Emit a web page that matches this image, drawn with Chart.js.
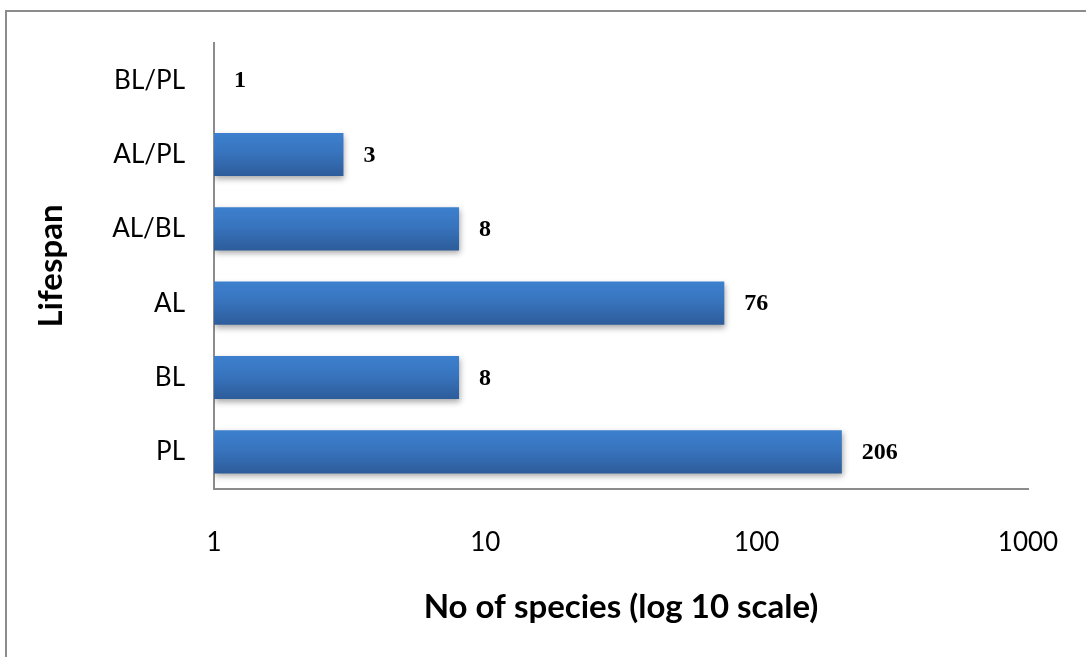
<!DOCTYPE html>
<html>
<head>
<meta charset="utf-8">
<script src="https://cdn.jsdelivr.net/npm/chart.js@4/dist/chart.umd.min.js"></script>
<style>
html,body{margin:0;padding:0;background:#fff;}
#wrap{width:1086px;height:657px;position:relative;}
</style>
</head>
<body>
<div id="wrap"><canvas id="c" width="1086" height="657"></canvas></div>
<script>
const categories = ['BL/PL', 'AL/PL', 'AL/BL', 'AL', 'BL', 'PL'];
const speciesCounts = [1, 3, 8, 76, 8, 206];
const xTickValues = [1, 10, 100, 1000];
const xTitle = 'No of species (log 10 scale)';
const yTitle = 'Lifespan';

const frame = {
  id: 'frame',
  beforeDraw(chart) {
    const ctx = chart.ctx;
    ctx.save();
    ctx.fillStyle = '#fff';
    ctx.fillRect(0, 0, chart.width, chart.height);
    ctx.strokeStyle = '#8c8c8c';
    ctx.lineWidth = 2;
    ctx.strokeRect(6, 11, 1200, 1000);
    ctx.restore();
  }
};

const barStyle = {
  id: 'barStyle',
  beforeDatasetsDraw(chart) {
    const ctx = chart.ctx;
    const meta = chart.getDatasetMeta(0);
    meta.data.forEach(el => {
      const top = el.y - el.height / 2, bot = el.y + el.height / 2;
      const g = ctx.createLinearGradient(0, top, 0, bot);
      g.addColorStop(0, '#3d80ce');
      g.addColorStop(0.45, '#3874be');
      g.addColorStop(1, '#2d5c9a');
      el.options = Object.assign({}, el.options, { backgroundColor: g });
    });
    ctx.save();
    ctx.shadowColor = 'rgba(0,0,0,0.35)';
    ctx.shadowBlur = 6;
    ctx.shadowOffsetX = 1;
    ctx.shadowOffsetY = 3;
  },
  afterDatasetsDraw(chart) {
    const ctx = chart.ctx;
    ctx.restore();
    const meta = chart.getDatasetMeta(0);
    ctx.save();
    ctx.font = 'bold 24px "Liberation Serif", serif';
    ctx.fillStyle = '#000';
    ctx.textAlign = 'left';
    ctx.textBaseline = 'middle';
    meta.data.forEach((el, i) => {
      ctx.fillText(String(speciesCounts[i]), el.x + 20, el.y + 1);
    });
    ctx.restore();
  }
};

new Chart(document.getElementById('c'), {
  type: 'bar',
  data: {
    labels: categories,
    datasets: [{
      data: speciesCounts,
      backgroundColor: '#3873bd',
      borderWidth: 0,
      barPercentage: 0.58,
      categoryPercentage: 1
    }]
  },
  options: {
    indexAxis: 'y',
    responsive: false,
    animation: false,
    layout: { padding: { left: 0, top: 43, right: 58, bottom: 0 } },
    plugins: { legend: { display: false }, tooltip: { enabled: false } },
    scales: {
      x: {
        type: 'logarithmic',
        min: 1,
        max: 1000,
        afterBuildTicks(scale) { scale.ticks = xTickValues.map(v => ({ value: v })); },
        afterFit(scale) { scale.height = 168; scale.paddingLeft = 0; scale.paddingRight = 0; },
        grid: { display: false, drawTicks: false },
        border: { display: true, color: '#8c8c8c', width: 2 },
        ticks: {
          color: '#000',
          padding: 38,
          maxRotation: 0,
          autoSkip: false,
          font: { family: 'Lato', size: 26 },
          callback: (v) => String(v)
        },
        title: {
          display: true,
          text: xTitle,
          color: '#000',
          font: { family: 'Lato', size: 33, weight: 'bold' },
          padding: { top: 0, bottom: 30 }
        }
      },
      y: {
        afterFit(scale) { scale.width = 214; scale.paddingTop = 0; scale.paddingBottom = 0; },
        grid: { display: false, drawTicks: false },
        border: { display: true, color: '#8c8c8c', width: 2 },
        ticks: {
          color: '#000',
          padding: 29,
          font: { family: 'Lato', size: 26 }
        },
        title: {
          display: true,
          text: yTitle,
          color: '#000',
          font: { family: 'Lato', size: 33, weight: 'bold' },
          padding: { top: 32, bottom: 0 }
        }
      }
    }
  },
  plugins: [frame, barStyle]
});
</script>
</body>
</html>
